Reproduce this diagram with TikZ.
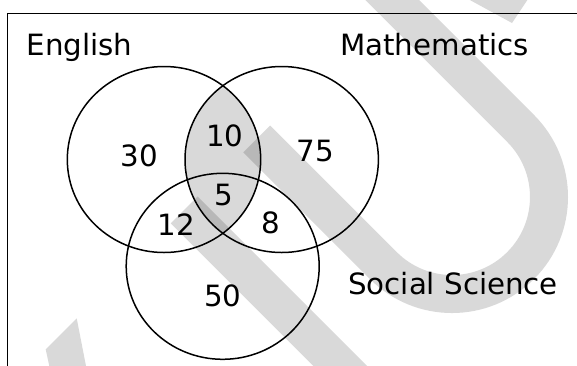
\documentclass[tikz,border=0pt]{standalone}
\usepackage{fontspec}
\setmainfont{DejaVu Sans}
\usetikzlibrary{shapes.geometric}
\begin{document}
\begin{tikzpicture}[x=1pt,y=-1pt,
  ring/.style={draw=black,line width=1.5pt},
  lbl/.style={font=\fontsize{29.3}{31}\selectfont,inner sep=0pt},
  num/.style={lbl,anchor=base},
  wmark/.style={draw=black,draw opacity=0.15,line width=38pt},
  wmarkfill/.style={fill=black,fill opacity=0.15,draw=none}]
\useasboundingbox (0,0) rectangle (577,365);
\clip (0,0) rectangle (577,365);
% shaded lens English & Mathematics
\begin{scope}
  \clip (164,159.5) ellipse [x radius=96.7,y radius=93];
  \fill[black!15] (281.7,159.5) ellipse [x radius=96.7,y radius=93];
\end{scope}
% watermark
\draw[wmark] (256.7,139) -- (383.4,265.6) arc[start angle=135,end angle=-45,radius=97] -- (370.6,-21.6);
\draw[wmark] (184.2,209.9) -- (384.2,409.9);
\fill[wmarkfill] (76.7,318.3) -- (45.7,349.3) -- (49.3,366) -- (86,366) -- cycle;
\fill[wmarkfill] (468,-1) -- (528,-1) -- (512,23) -- cycle;
% frame
\draw[line width=1.5pt] (7.5,366) coordinate (fa) -- (7.5,13.5) coordinate (fb) -- (578,13.5) coordinate (fc);
% circles
\node[ring,ellipse,minimum width=193.4pt,minimum height=186pt,inner sep=0pt] (eng) at (164,159.5) {};
\node[ring,ellipse,minimum width=193.4pt,minimum height=186pt,inner sep=0pt] (mat) at (281.7,159.5) {};
\node[ring,ellipse,minimum width=193pt,minimum height=186pt,inner sep=0pt] (soc) at (222.7,266.3) {};
% labels
\node[lbl,anchor=base west] (tEng) at (26.5,55) {English};
\node[lbl,anchor=base west] (tMat) at (340,55) {Mathematics};
\node[lbl,anchor=base west] (tSoc) at (348,294) {Social Science};
\node[num] (n30) at (139.5,166.7) {30};
\node[num] (n10) at (224.8,146.7) {10};
\node[num] (n75) at (315.5,161.7) {75};
\node[num] (n5) at (223.4,205) {5};
\node[num] (n12) at (176.5,235) {12};
\node[num] (n8) at (270.9,233.3) {8};
\node[num] (n50) at (223,306.7) {50};
\end{tikzpicture}
\end{document}
